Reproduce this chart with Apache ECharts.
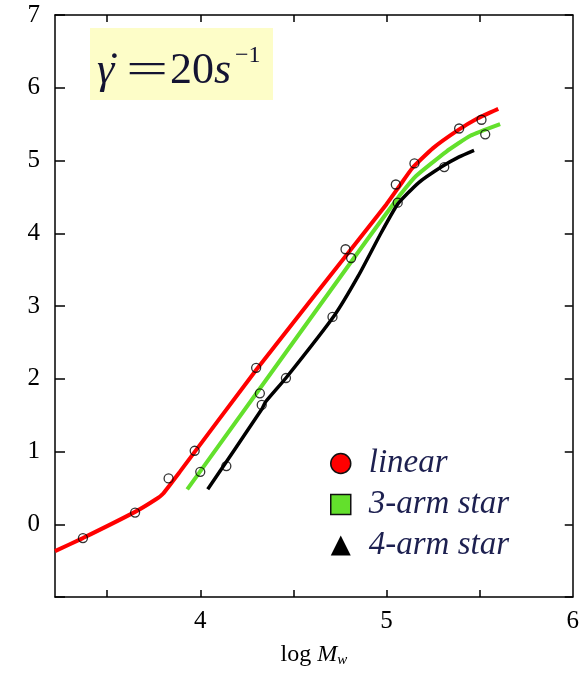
<!DOCTYPE html>
<html>
<head>
<meta charset="utf-8">
<script src="https://cdn.jsdelivr.net/npm/echarts@6/dist/echarts.min.js"></script>
<style>
  html, body { margin: 0; padding: 0; background: #fff; }
  #chart { width: 582px; height: 673px; }
</style>
</head>
<body>
<div id="chart"></div>
<script>
// fitted curves (log Mw, value)
var linearX = [3.22, 3.37, 3.65, 3.76, 3.80, 3.89, 4.30, 4.85, 5.00, 5.07, 5.14, 5.25, 5.38, 5.49, 5.60];
var linearY = [-0.37, -0.19, 0.17, 0.34, 0.42, 0.72, 2.12, 3.91, 4.40, 4.65, 4.90, 5.17, 5.41, 5.58, 5.71];

var arm3X = [3.93, 4.89, 5.01, 5.08, 5.16, 5.32, 5.45, 5.61];
var arm3Y = [0.48, 3.89, 4.31, 4.55, 4.79, 5.12, 5.34, 5.50];

var arm4X = [4.04, 4.33, 4.35, 4.46, 4.72, 4.85, 4.97, 5.06, 5.17, 5.30, 5.39, 5.47];
var arm4Y = [0.48, 1.58, 1.68, 2.01, 2.87, 3.42, 4.00, 4.40, 4.69, 4.92, 5.05, 5.14];

// measured points (open markers)
var linearPtX = [3.37, 3.65, 3.83, 3.97, 4.30, 4.78, 5.15, 5.39, 5.51];
var linearPtY = [-0.19, 0.16, 0.63, 1.01, 2.15, 3.78, 4.96, 5.44, 5.56];
var arm3PtX = [4.00, 4.32, 4.81, 5.05, 5.53];
var arm3PtY = [0.72, 1.80, 3.66, 4.67, 5.36];
var arm4PtX = [4.14, 4.33, 4.46, 4.71, 5.06, 5.31];
var arm4PtY = [0.80, 1.64, 2.01, 2.85, 4.42, 4.91];

var xLabels = [4, 5, 6];
var xTicks = [3.5, 4, 4.5, 5, 5.5];
var names = ['linear', '3-arm star', '4-arm star'];

function pairs(xs, ys) {
  var out = [];
  for (var i = 0; i < xs.length; i++) out.push([xs[i], ys[i]]);
  return out;
}

var serif = '"Liberation Serif", "DejaVu Serif", serif';
var ink = '#141432';
var chart = echarts.init(document.getElementById('chart'));

var markerStyle = { color: 'rgba(0,0,0,0)', borderColor: '#000', borderWidth: 1.3 };

// annotation pieces: shear rate = 20 s^-1
function txt(left, top, s, size, italic) {
  return {
    type: 'text', left: left, top: top, z: 11,
    style: { text: s, fontFamily: serif, fontSize: size, fontStyle: italic ? 'italic' : 'normal', fill: ink }
  };
}

chart.setOption({
  animation: false,
  grid: { left: 55, right: 5, top: 15, bottom: 76 },
  xAxis: [
    {
      type: 'value', min: 3.22, max: 6.0,
      axisLine: { onZero: false, lineStyle: { color: '#000', width: 1.5 } },
      axisTick: { inside: true, length: 7, customValues: xTicks, lineStyle: { color: '#000', width: 1.5 } },
      axisLabel: { customValues: xLabels, color: '#000', fontFamily: serif, fontSize: 25, margin: 12 },
      splitLine: { show: false },
      name: '{a|log }{b|M}{c|w}',
      nameLocation: 'middle',
      nameGap: 44,
      nameTextStyle: {
        rich: {
          a: { fontFamily: serif, fontSize: 24, color: '#000' },
          b: { fontFamily: serif, fontSize: 24, fontStyle: 'italic', color: '#000' },
          c: { fontFamily: serif, fontSize: 15, fontStyle: 'italic', color: '#000', padding: [12, 0, 0, 0] }
        }
      }
    },
    {
      type: 'value', min: 3.22, max: 6.0, position: 'top',
      axisLine: { onZero: false, lineStyle: { color: '#000', width: 1.5 } },
      axisTick: { inside: true, length: 7, customValues: xTicks, lineStyle: { color: '#000', width: 1.5 } },
      axisLabel: { show: false },
      splitLine: { show: false }
    }
  ],
  yAxis: [
    {
      type: 'value', min: -1, max: 7, interval: 1,
      axisLine: { show: true, onZero: false, lineStyle: { color: '#000', width: 1.5 } },
      axisTick: { show: true, inside: true, length: 10, lineStyle: { color: '#000', width: 1.5 } },
      axisLabel: {
        color: '#000', fontFamily: serif, fontSize: 25, margin: 15,
        formatter: function (v) { return v < 0 ? '' : String(v); }
      },
      splitLine: { show: false }
    },
    {
      type: 'value', min: -1, max: 7, interval: 1, position: 'right',
      axisLine: { show: true, onZero: false, lineStyle: { color: '#000', width: 1.5 } },
      axisTick: { show: true, inside: true, length: 8, lineStyle: { color: '#000', width: 1.5 } },
      axisLabel: { show: false },
      splitLine: { show: false }
    }
  ],
  legend: {
    orient: 'vertical',
    left: 325,
    top: 442,
    itemWidth: 20,
    itemHeight: 20,
    itemGap: 8,
    textStyle: { fontFamily: serif, fontStyle: 'italic', fontSize: 33, lineHeight: 32, color: '#1d2050', padding: [0, 0, 0, 13] },
    data: [
      { name: names[0], icon: 'circle', itemStyle: { color: '#ff0000', borderColor: '#111', borderWidth: 1.5 } },
      { name: names[1], icon: 'rect', itemStyle: { color: '#63e02c', borderColor: '#111', borderWidth: 1.5 } },
      { name: names[2], icon: 'triangle', itemStyle: { color: '#000', borderColor: '#000', borderWidth: 0 } }
    ]
  },
  graphic: [
    {
      type: 'rect', left: 90, top: 28, z: 10,
      shape: { width: 183, height: 72 },
      style: { fill: '#fdfdc8' }
    },
    txt(97, 49, 'γ', 44, true),
    txt(107, 49, '˙', 44, false),
    {
      type: 'text', x: 126, y: 49, scaleX: 1.7, z: 11,
      style: { text: '=', fontFamily: serif, fontSize: 44, fill: ink, verticalAlign: 'top' }
    },
    txt(170, 49, '20', 44, false),
    txt(214, 49, 's', 44, true),
    txt(235, 44, '−1', 24, false)
  ],
  series: [
    {
      name: names[0], type: 'line', smooth: 0.15, showSymbol: false, z: 3,
      lineStyle: { color: '#ff0000', width: 4 }, itemStyle: { color: '#ff0000' },
      data: pairs(linearX, linearY)
    },
    {
      name: names[1], type: 'line', smooth: 0.15, showSymbol: false, z: 3,
      lineStyle: { color: '#63e02c', width: 4 }, itemStyle: { color: '#63e02c' },
      data: pairs(arm3X, arm3Y)
    },
    {
      name: names[2], type: 'line', smooth: 0.15, showSymbol: false, z: 3,
      lineStyle: { color: '#000', width: 3.5 }, itemStyle: { color: '#000' },
      data: pairs(arm4X, arm4Y)
    },
    { name: 'linear pts', type: 'scatter', symbol: 'circle', symbolSize: 9, z: 4, itemStyle: markerStyle, data: pairs(linearPtX, linearPtY) },
    { name: '3-arm pts', type: 'scatter', symbol: 'circle', symbolSize: 9, z: 4, itemStyle: markerStyle, data: pairs(arm3PtX, arm3PtY) },
    { name: '4-arm pts', type: 'scatter', symbol: 'circle', symbolSize: 9, z: 4, itemStyle: markerStyle, data: pairs(arm4PtX, arm4PtY) }
  ]
});
</script>
</body>
</html>
